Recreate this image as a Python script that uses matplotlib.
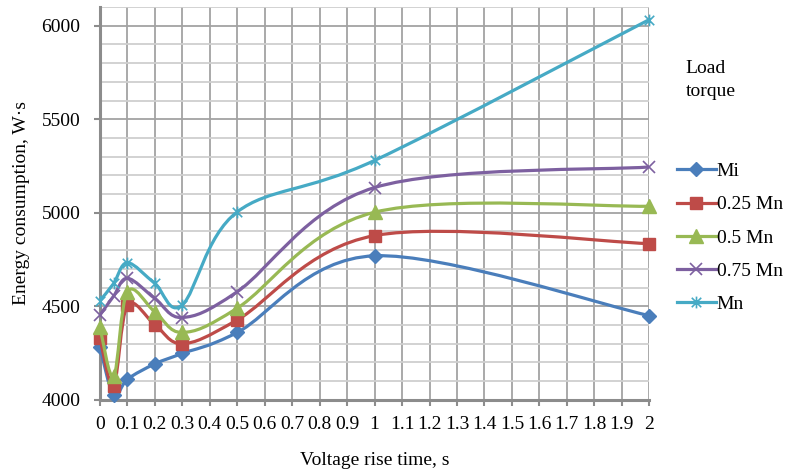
import numpy as np
import matplotlib.pyplot as plt
from matplotlib.path import Path
from matplotlib.patches import PathPatch
from matplotlib.lines import Line2D

plt.rcParams['font.family'] = ['Liberation Serif', 'DejaVu Serif']

# voltage rise time, s
t = [0, 0.05, 0.1, 0.2, 0.3, 0.5, 1, 2]

# energy consumption, W*s, for each load torque
mi = [4280, 4025, 4110, 4192, 4248, 4360, 4770, 4450]
mn025 = [4328, 4075, 4505, 4402, 4300, 4427, 4878, 4835]
mn05 = [4388, 4125, 4578, 4470, 4360, 4490, 5003, 5035]
mn075 = [4453, 4555, 4650, 4542, 4440, 4578, 5135, 5245]
mn = [4530, 4622, 4733, 4622, 4508, 5005, 5280, 6033]

labels = ['Mi', '0.25 Mn', '0.5 Mn', '0.75 Mn', 'Mn']
series = [mi, mn025, mn05, mn075, mn]
colors = ['#4A7EBB', '#BE4B48', '#98B954', '#7D60A0', '#46AAC5']

xtick_vals = np.round(np.arange(0, 2.01, 0.1), 1)
xtick_labels = ['%g' % v for v in xtick_vals]

# Excel style "star" marker: an x with a vertical bar through it
star = Path([(-1, -1), (1, 1), (-1, 1), (1, -1), (0, -1.25), (0, 1.25)],
            [Path.MOVETO, Path.LINETO, Path.MOVETO, Path.LINETO, Path.MOVETO, Path.LINETO])
markers = [('D', 7.5, 1), ('s', 9, 1), ('^', 9.5, 1), ('x', 8.5, 1.2), (star, 8.5, 1.2)]

FS = 14


def smooth_path(x, y):
    """Catmull-Rom style cubic Bezier through the points (smoothed line)."""
    p = np.column_stack([x, y]).astype(float)
    ext = np.vstack([p[0], p, p[-1]])
    verts = [p[0]]
    codes = [Path.MOVETO]
    for i in range(len(p) - 1):
        p0, p1, p2, p3 = ext[i], ext[i + 1], ext[i + 2], ext[i + 3]
        c1 = p1 + (p2 - p0) / 6.0
        c2 = p2 - (p3 - p1) / 6.0
        verts += [c1, c2, p2]
        codes += [Path.CURVE4] * 3
    return Path(verts, codes)


fig = plt.figure(figsize=(7.87, 4.72), dpi=100)
ax = fig.add_axes([0.127, 0.153, 0.698, 0.832])

handles = []
for i, (vals, lab, col, (mk, ms, mew)) in enumerate(zip(series, labels, colors, markers)):
    ax.add_patch(PathPatch(smooth_path(t, vals), facecolor='none', edgecolor=col,
                           lw=2.3, zorder=3 + i, capstyle='round', joinstyle='round'))
    ax.plot(t, vals, ls='none', marker=mk, ms=ms, color=col, mec=col, mfc=col,
            mew=mew, zorder=3 + i, clip_on=False)
    handles.append(Line2D([], [], color=col, lw=2.3, marker=mk, ms=ms,
                          mec=col, mfc=col, mew=mew))

ax.set_xlim(0, 2)
ax.set_ylim(4000, 6100)
ax.set_xticks(xtick_vals)
ax.set_xticklabels(xtick_labels)
ax.set_yticks([4000, 4500, 5000, 5500, 6000])
ax.set_yticks(np.arange(4000, 6101, 100), minor=True)

ax.grid(True, which='major', color='#A3A3A3', lw=1.3)
ax.grid(True, which='minor', axis='y', color='#CFCFCF', lw=1.3)
ax.set_axisbelow(True)

for s in ['top', 'right']:
    ax.spines[s].set_visible(False)
for s in ['left', 'bottom']:
    ax.spines[s].set_color('#8C8C8C')
    ax.spines[s].set_linewidth(2.2)

ax.tick_params(axis='both', which='major', labelsize=FS, color='#8C8C8C',
               width=1.5, length=4, direction='out')
ax.tick_params(axis='y', which='major', pad=10)
ax.tick_params(axis='x', which='major', pad=8)
ax.tick_params(axis='y', which='minor', length=0)

ax.set_xlabel('Voltage rise time, s', fontsize=FS, labelpad=13)
ax.set_ylabel('Energy consumption, W·s', fontsize=FS, labelpad=8)

fig.text(0.871, 0.83, 'Load\ntorque', fontsize=FS, ha='left', va='center',
         linespacing=1.45)
fig.legend(handles=handles, labels=labels, loc='upper left',
           bbox_to_anchor=(0.85, 0.672), frameon=False, fontsize=FS,
           handlelength=2.0, handletextpad=0.05, labelspacing=0.8,
           borderaxespad=0)

fig.savefig('out.png', dpi=100)
